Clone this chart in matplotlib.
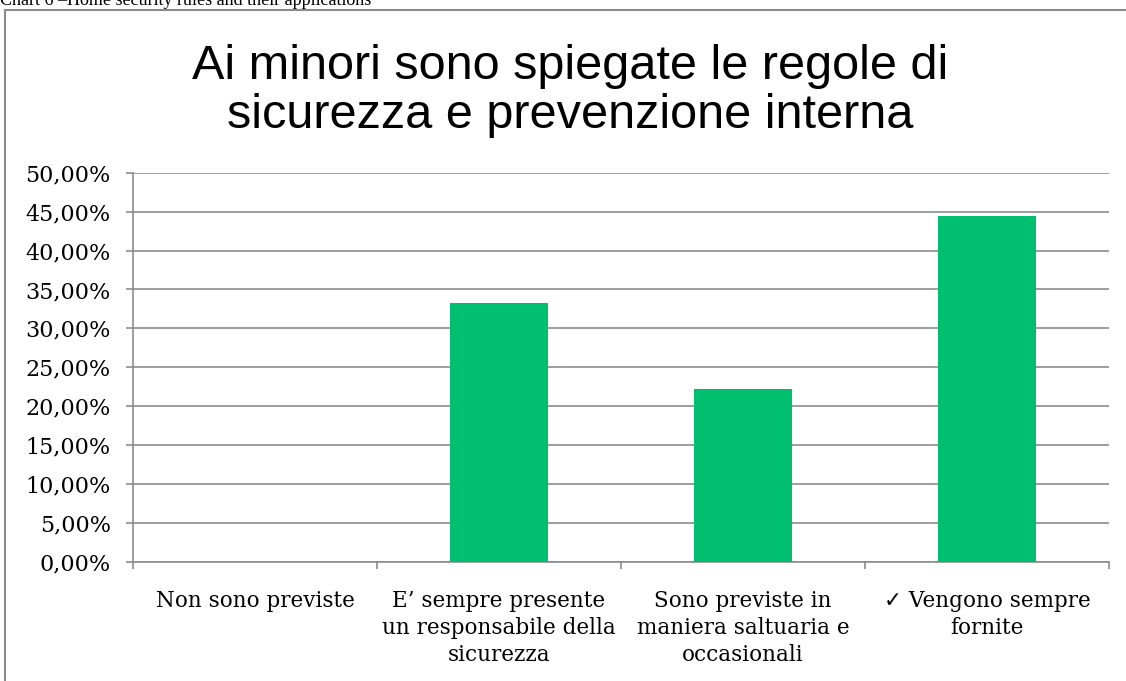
import matplotlib.pyplot as plt
from matplotlib.patches import Rectangle
from matplotlib.ticker import FixedLocator

# Survey data
categories = ['Non sono previste',
              'E\u2019 sempre presente\nun responsabile della\nsicurezza',
              'Sono previste in\nmaniera saltuaria e\noccasionali',
              '\u2713 Vengono sempre\nfornite']
values = [0.0, 33.33, 22.22, 44.44]
y_ticks = [0, 5, 10, 15, 20, 25, 30, 35, 40, 45, 50]
y_labels = ['0,00%', '5,00%', '10,00%', '15,00%', '20,00%', '25,00%',
            '30,00%', '35,00%', '40,00%', '45,00%', '50,00%']

serif = ['DejaVu Serif', 'DejaVu Sans']
grey = '#8c8c8c'

fig = plt.figure(figsize=(11.26, 6.81), dpi=100)
ax = fig.add_axes([0.1181, 0.1747, 0.8669, 0.5717])

x = range(len(categories))
ax.bar(x, values, width=0.4, color='#00bf6f', zorder=3)

ax.set_xlim(-0.5, len(categories) - 0.5)
ax.set_ylim(0, 50)
ax.set_yticks(y_ticks)
ax.set_yticklabels(y_labels, family=serif, fontsize=16)
ax.set_xticks(list(x))
ax.set_xticklabels(categories, family=serif, fontsize=15.5, linespacing=1.3, va='top')
ax.xaxis.set_minor_locator(FixedLocator([i - 0.5 for i in range(len(categories) + 1)]))

ax.grid(axis='y', color=grey, linewidth=1.2, zorder=0)
ax.tick_params(axis='y', length=5, width=1.2, color=grey, pad=11)
ax.tick_params(axis='x', which='major', length=0, pad=20)
ax.tick_params(axis='x', which='minor', length=5, width=1.2, color=grey)

for side in ['top', 'right']:
    ax.spines[side].set_visible(False)
for side in ['left', 'bottom']:
    ax.spines[side].set_color(grey)
    ax.spines[side].set_linewidth(1.2)

# chart title (baseline of the second line)
fig.text(0.506, 1 - 128 / 681, 'Ai minori sono spiegate le regole di\nsicurezza e prevenzione interna',
         ha='center', va='baseline', fontsize=35, family='Liberation Sans', linespacing=1.12)

# border around the chart
fig.patches.append(Rectangle((5 / 1126, -0.1), 1.2, 1 - 9.5 / 681 + 0.1,
                             transform=fig.transFigure, fill=False,
                             edgecolor='#8a8a8a', linewidth=1.5))

# caption above the frame
fig.text(0.0, 1 - 5 / 681, 'Chart 6 \u2013Home security rules and their applications',
         ha='left', va='baseline', fontsize=13, family='Liberation Serif')

fig.savefig('out.png', dpi=100)
